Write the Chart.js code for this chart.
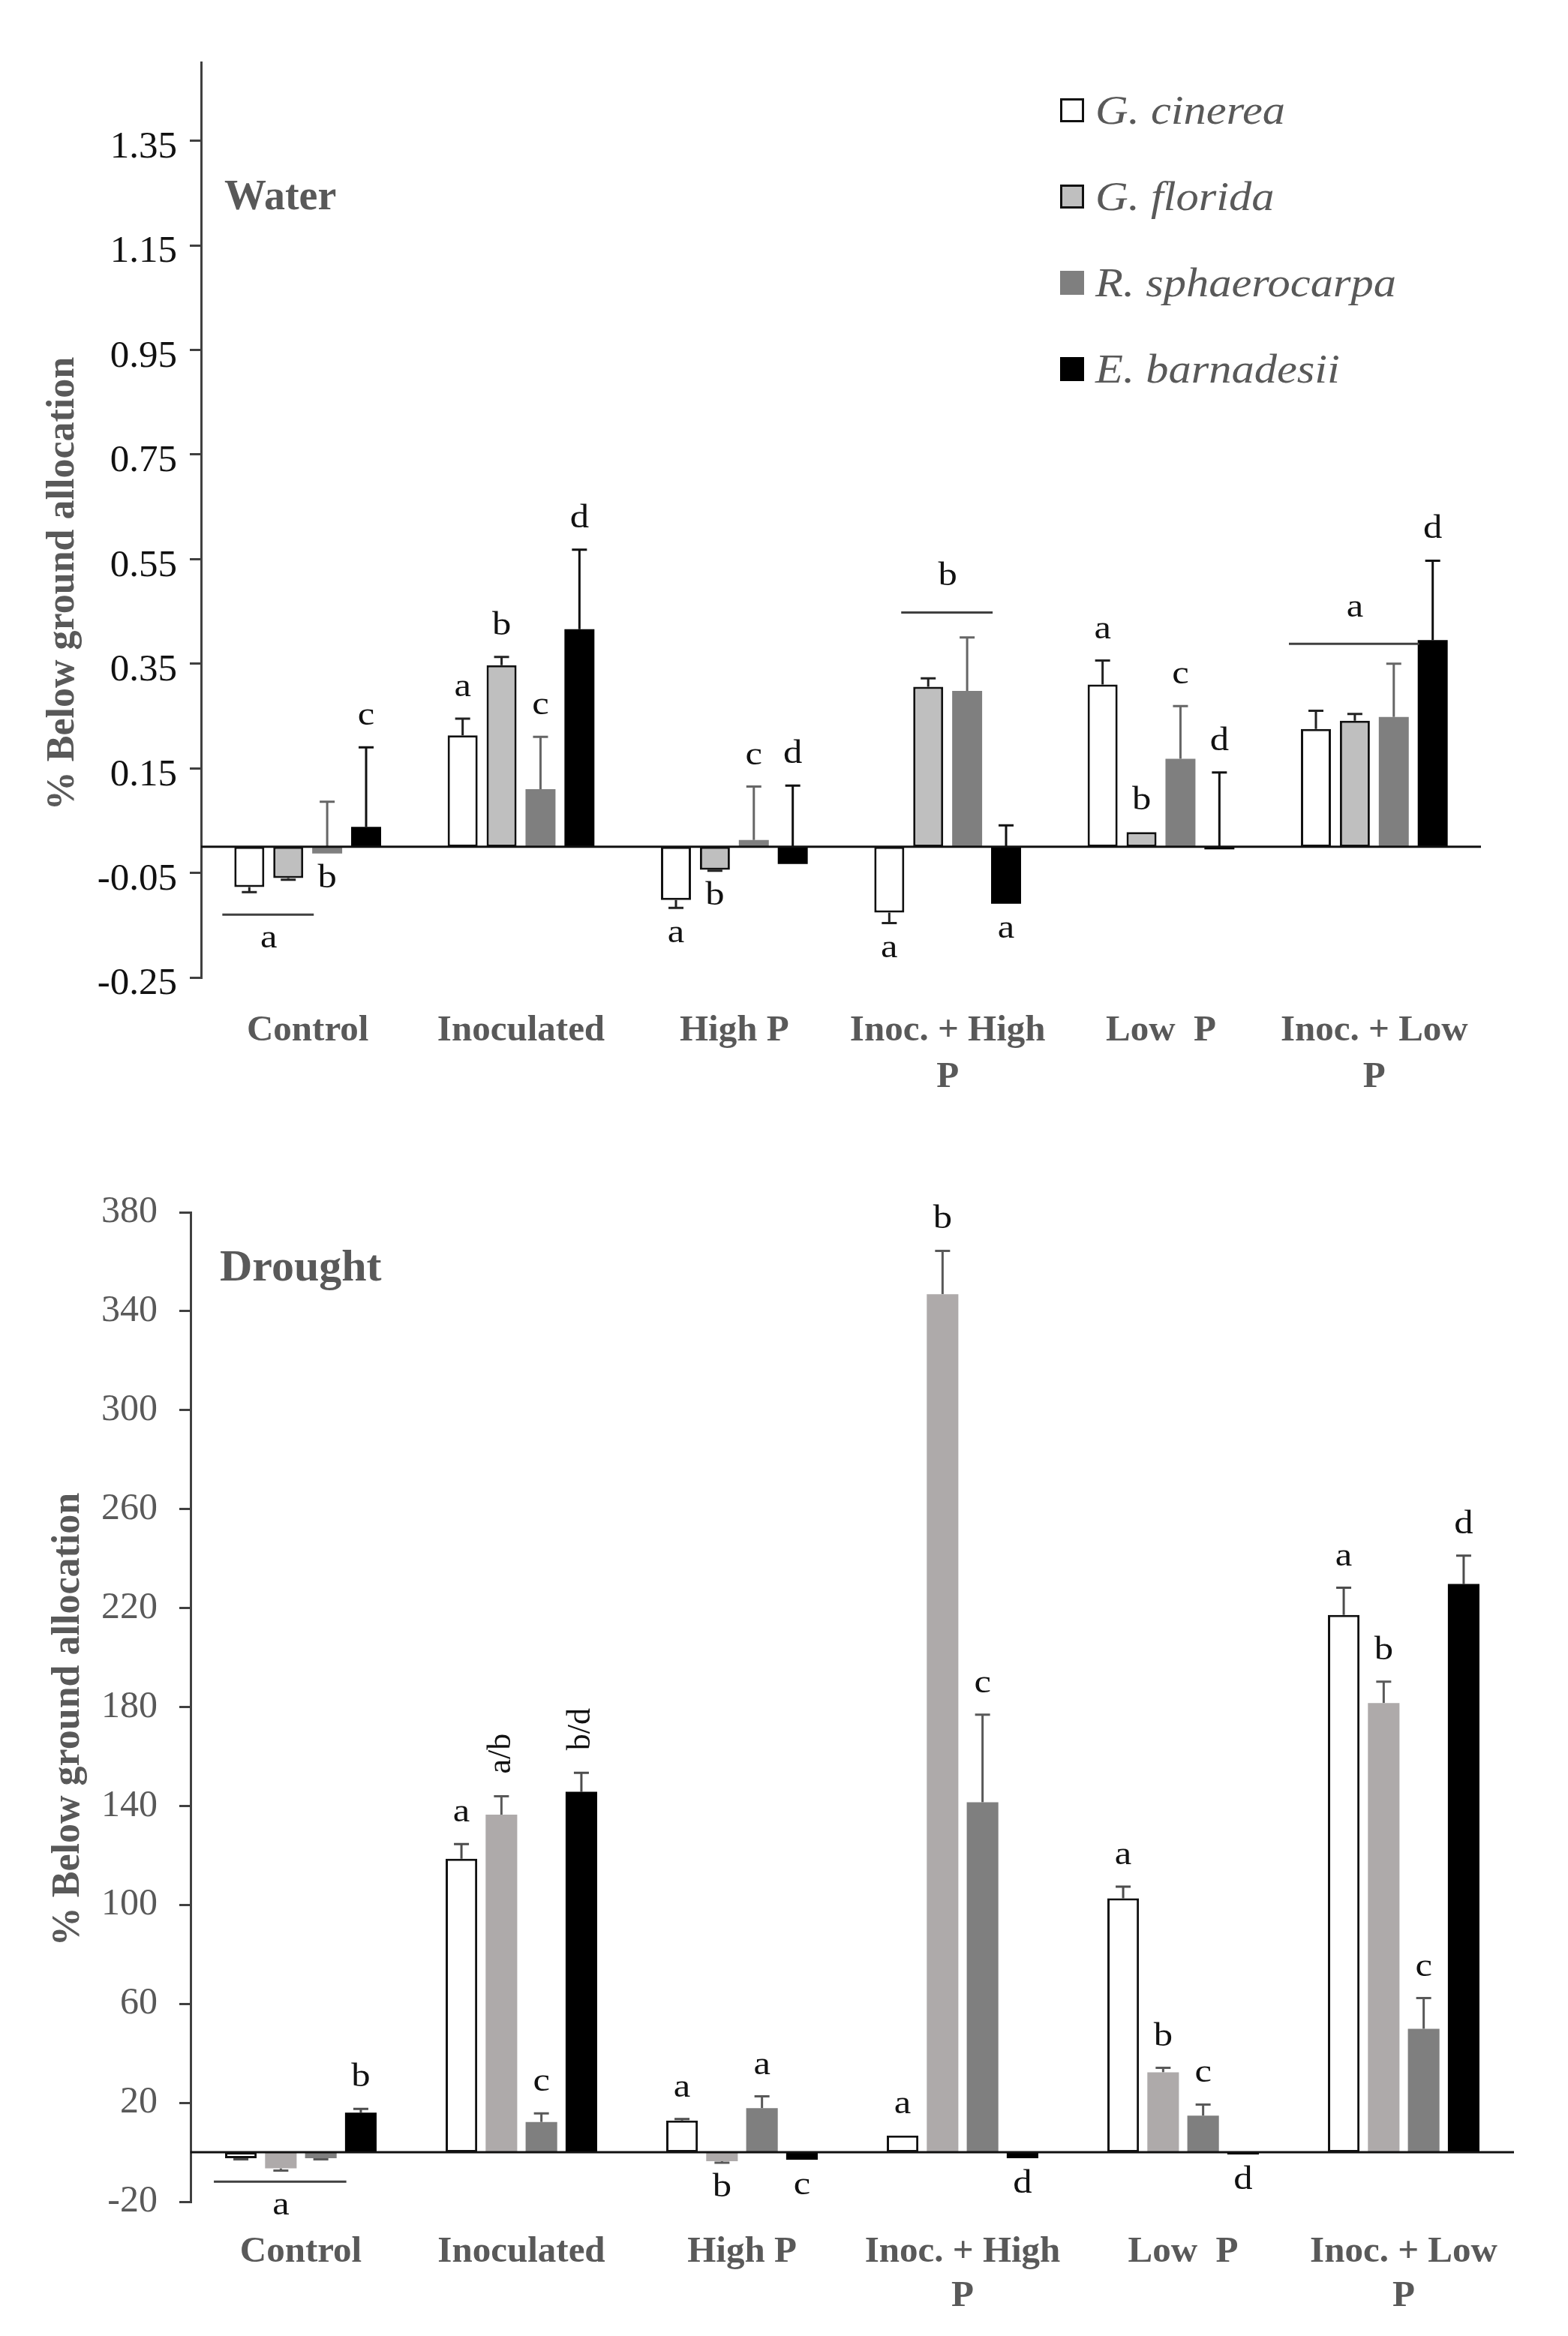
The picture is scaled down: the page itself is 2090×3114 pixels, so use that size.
<!DOCTYPE html>
<html>
<head>
<meta charset="utf-8">
<script src="https://cdn.jsdelivr.net/npm/chart.js@4.4.0/dist/chart.umd.min.js"></script>
<style>
  body { margin: 0; background: #fff; }
  .wrap { position: absolute; left: 0; }
</style>
</head>
<body>
<div class="wrap" style="top:0"><canvas id="waterChart" width="2090" height="1500"></canvas></div>
<div class="wrap" style="top:1540px"><canvas id="droughtChart" width="2090" height="1574"></canvas></div>
<script>
const treatments = ['Control', 'Inoculated', 'High P', ['Inoc. + High', 'P'], 'Low  P', ['Inoc. + Low', 'P']];
const species = ['G. cinerea', 'G. florida', 'R. sphaerocarpa', 'E. barnadesii'];

// Water - bar means
const waterCinerea = [-0.077, 0.213, -0.102, -0.126, 0.310, 0.225];
const waterFlorida = [-0.060, 0.347, -0.044, 0.306, 0.028, 0.241];
const waterSphaero = [-0.013, 0.110, 0.013, 0.298, 0.168, 0.248];
const waterBarnad  = [0.038, 0.416, -0.033, -0.109, -0.005, 0.395];
// Water - whisker ends
const waterCinereaErr = [-0.087, 0.245, -0.117, -0.146, 0.356, 0.260];
const waterFloridaErr = [-0.063, 0.363, -0.046, 0.322, null, 0.254];
const waterSphaeroErr = [0.086, 0.210, 0.115, 0.400, 0.269, 0.350];
const waterBarnadErr  = [0.190, 0.568, 0.117, 0.041, 0.142, 0.547];
// Water - letters
const waterLetters = [
  ['', 'a', 'a', 'a', 'a', ''],
  ['', 'b', 'b', '', 'b', ''],
  ['b', 'c', 'c', '', 'c', ''],
  ['c', 'd', 'd', 'a', 'd', 'd']
];
const waterLetterPos = [
  ['', 'up', 'down', 'down', 'up', ''],
  ['', 'up', 'down', '', 'up', ''],
  ['down', 'up', 'up', '', 'up', ''],
  ['up', 'up', 'up', 'down', 'up', 'up']
];
const waterGroups = [
  { cat: 0, from: 0, to: 1, value: -0.130, text: 'a', pos: 'down' },
  { cat: 3, from: 1, to: 2, value: 0.448, text: 'b', pos: 'up' },
  { cat: 5, from: 0, to: 2, value: 0.388, text: 'a', pos: 'up' }
];
const waterTicks = [-0.25, -0.05, 0.15, 0.35, 0.55, 0.75, 0.95, 1.15, 1.35];

// Drought - bar means
const droughtCinerea = [-2.4, 118.7, 12.8, 6.8, 102.7, 217.2];
const droughtFlorida = [-6.5, 136.5, -3.6, 346.9, 32.3, 181.6];
const droughtSphaero = [-2.4, 12.2, 17.8, 141.5, 14.8, 49.9];
const droughtBarnad  = [16.0, 145.7, -3.0, -2.4, -0.9, 229.7];
// Drought - whisker ends
const droughtCinereaErr = [-2.9, 124.6, 13.4, null, 107.4, 228.2];
const droughtFloridaErr = [-7.4, 143.9, -4.2, 364.4, 34.1, 190.2];
const droughtSphaeroErr = [-2.9, 15.7, 22.6, 176.9, 19.3, 62.3];
const droughtBarnadErr  = [17.5, 153.4, null, null, null, 241.2];
// Drought - letters
const droughtLetters = [
  ['', 'a', 'a', 'a', 'a', 'a'],
  ['', 'a/b', 'b', 'b', 'b', 'b'],
  ['', 'c', 'a', 'c', 'c', 'c'],
  ['b', 'b/d', 'c', 'd', 'd', 'd']
];
const droughtLetterPos = [
  ['', 'up', 'up', 'up', 'up', 'up'],
  ['', 'up', 'down', 'up', 'up', 'up'],
  ['', 'up', 'up', 'up', 'up', 'up'],
  ['up', 'up', 'down', 'down', 'down', 'up']
];
const droughtGroups = [
  { cat: 0, from: 0, to: 2, value: -11.9, text: 'a', pos: 'down' }
];
const droughtTicks = [-20, 20, 60, 100, 140, 180, 220, 260, 300, 340, 380];

const SERIF = "'Liberation Serif', 'Times New Roman', serif";
const GREY = '#595959';

// wider text, the original uses a broad book face
function wideText(ctx, txt, x, y, sx) {
  ctx.save();
  ctx.translate(x, y);
  ctx.scale(sx, 1);
  ctx.fillText(txt, 0, 0);
  ctx.restore();
}

const extrasPlugin = {
  id: 'extras',
  beforeDatasetsDraw(chart, args, opts) {
    const ctx = chart.ctx, y = chart.scales.y;
    ctx.save();
    ctx.lineWidth = 3;
    chart.data.datasets.forEach((ds, i) => {
      const meta = chart.getDatasetMeta(i);
      ctx.strokeStyle = opts.errColors[i];
      meta.data.forEach((bar, j) => {
        const end = opts.errs[i][j];
        if (end === null || end === undefined) return;
        let v = ds.data[j];
        if (v < 0 && end > v) v = 0;
        const y0 = y.getPixelForValue(v), y1 = y.getPixelForValue(end);
        ctx.beginPath();
        ctx.moveTo(bar.x, y0); ctx.lineTo(bar.x, y1);
        ctx.moveTo(bar.x - 10, y1); ctx.lineTo(bar.x + 10, y1);
        ctx.stroke();
      });
    });
    ctx.restore();
  },
  afterDatasetsDraw(chart, args, opts) {
    const ctx = chart.ctx, y = chart.scales.y, area = chart.chartArea;
    ctx.save();

    // zero line
    const y0 = y.getPixelForValue(0);
    ctx.strokeStyle = '#111';
    ctx.lineWidth = 3;
    ctx.beginPath();
    ctx.moveTo(area.left, y0); ctx.lineTo(area.right, y0);
    ctx.stroke();

    // significance letters
    ctx.fillStyle = '#111';
    ctx.font = '44px ' + SERIF;
    ctx.textAlign = 'center';
    chart.data.datasets.forEach((ds, i) => {
      const meta = chart.getDatasetMeta(i);
      meta.data.forEach((bar, j) => {
        const txt = opts.letters[i][j];
        if (!txt) return;
        const v = ds.data[j];
        const e = opts.errs[i][j] === null ? v : opts.errs[i][j];
        if (opts.letterPos[i][j] === 'up') {
          const py = y.getPixelForValue(Math.max(v, e));
          if (txt.indexOf('/') >= 0) {
            ctx.save();
            ctx.translate(bar.x, py - 30);
            ctx.rotate(-Math.PI / 2);
            ctx.textAlign = 'left';
            ctx.textBaseline = 'middle';
            ctx.fillText(txt, 0, 0);
            ctx.restore();
          } else {
            ctx.textBaseline = 'alphabetic';
            wideText(ctx, txt, bar.x, py - 30, 1.15);
          }
        } else {
          const py = y.getPixelForValue(Math.min(v, e));
          ctx.textBaseline = 'top';
          wideText(ctx, txt, bar.x, py + 12, 1.15);
        }
      });
    });

    // group lines
    opts.groups.forEach(g => {
      const a = chart.getDatasetMeta(g.from).data[g.cat];
      const b = chart.getDatasetMeta(g.to).data[g.cat];
      const gy = y.getPixelForValue(g.value);
      ctx.strokeStyle = '#404040';
      ctx.lineWidth = 3;
      ctx.beginPath();
      ctx.moveTo(a.x - 36, gy); ctx.lineTo(b.x + 34, gy);
      ctx.stroke();
      const mx = (a.x + b.x) / 2;
      if (g.pos === 'down') {
        ctx.textBaseline = 'top';
        wideText(ctx, g.text, mx, gy + 10, 1.15);
      } else {
        ctx.textBaseline = 'alphabetic';
        wideText(ctx, g.text, mx, gy - 36, 1.15);
      }
    });

    // panel title
    ctx.fillStyle = GREY;
    ctx.font = 'bold ' + opts.title.size + 'px ' + SERIF;
    ctx.textAlign = 'left';
    ctx.textBaseline = 'alphabetic';
    ctx.fillText(opts.title.text, opts.title.x, opts.title.y);

    // y axis title
    ctx.save();
    ctx.translate(opts.yTitle.x, opts.yTitle.y);
    ctx.rotate(-Math.PI / 2);
    ctx.font = 'bold 52px ' + SERIF;
    ctx.textAlign = 'center';
    ctx.textBaseline = 'middle';
    ctx.fillText('% Below ground allocation', 0, 0);
    ctx.restore();

    // legend
    if (opts.legend) {
      const L = opts.legend;
      chart.data.datasets.forEach((ds, i) => {
        const by = L.y + i * L.dy;
        ctx.fillStyle = ds.backgroundColor;
        ctx.fillRect(L.x, by, L.box, L.box);
        if (ds.borderWidth) {
          ctx.strokeStyle = ds.borderColor;
          ctx.lineWidth = 3;
          ctx.strokeRect(L.x + 1.5, by + 1.5, L.box - 3, L.box - 3);
        }
        ctx.fillStyle = GREY;
        ctx.font = 'italic 54px ' + SERIF;
        ctx.textBaseline = 'alphabetic';
        wideText(ctx, ds.label, L.textX, by + L.box + 2, 1.12);
      });
    }
    ctx.restore();
  }
};

function makeChart(id, cfg) {
  return new Chart(document.getElementById(id), {
    type: 'bar',
    data: {
      labels: treatments,
      datasets: cfg.series.map((d, i) => ({
        label: species[i],
        data: d,
        backgroundColor: cfg.fills[i],
        borderColor: '#111',
        borderWidth: cfg.borders[i],
        borderSkipped: false,
        categoryPercentage: cfg.catPct,
        barPercentage: cfg.barPct
      }))
    },
    options: {
      responsive: false,
      animation: false,
      devicePixelRatio: 1,
      layout: { padding: { top: cfg.top, right: cfg.right, bottom: 0, left: 0 } },
      plugins: {
        legend: { display: false },
        tooltip: { enabled: false },
        extras: cfg.extras
      },
      scales: {
        x: {
          grid: { display: false },
          border: { display: false },
          ticks: {
            color: GREY,
            padding: cfg.xPad,
            maxRotation: 0,
            autoSkip: false,
            font: { family: SERIF, size: 49, weight: 'bold', lineHeight: cfg.xLine }
          },
          afterFit: s => { s.height = cfg.xHeight; }
        },
        y: {
          min: cfg.ticks[0],
          max: cfg.yMax,
          afterBuildTicks: s => { s.ticks = cfg.ticks.map(v => ({ value: v })); },
          afterFit: s => { s.width = cfg.yWidth; },
          grid: { drawOnChartArea: false, drawTicks: true, tickLength: 15, color: '#404040', lineWidth: 3 },
          border: { display: true, color: '#404040', width: 3 },
          ticks: {
            color: cfg.tickColor,
            padding: cfg.yPad,
            labelOffset: cfg.yLabelOffset,
            font: { family: SERIF, size: cfg.tickSize },
            callback: v => cfg.fmt(v)
          }
        }
      }
    },
    plugins: [extrasPlugin]
  });
}

makeChart('waterChart', {
  series: [waterCinerea, waterFlorida, waterSphaero, waterBarnad],
  fills: ['#ffffff', '#bfbfbf', '#7f7f7f', '#000000'],
  borders: [3, 3, 0, 0],
  catPct: 0.73, barPct: 0.77,
  top: 83, right: 116,
  xPad: 33, xLine: 1.25, xHeight: 197,
  ticks: waterTicks, yMax: 1.5, yWidth: 268, yPad: 17, yLabelOffset: 9,
  tickColor: '#111', tickSize: 51,
  fmt: v => v.toFixed(2),
  extras: {
    errs: [waterCinereaErr, waterFloridaErr, waterSphaeroErr, waterBarnadErr],
    errColors: ['#222', '#222', '#666', '#111'],
    letters: waterLetters,
    letterPos: waterLetterPos,
    groups: waterGroups,
    title: { text: 'Water', x: 299, y: 279, size: 56 },
    yTitle: { x: 85, y: 778 },
    legend: { x: 1413, y: 131, dy: 115, box: 32, textX: 1460 }
  }
});

makeChart('droughtChart', {
  series: [droughtCinerea, droughtFlorida, droughtSphaero, droughtBarnad],
  fills: ['#ffffff', '#aeaaaa', '#7f7f7f', '#000000'],
  borders: [3, 0, 0, 0],
  catPct: 0.725, barPct: 0.79,
  top: 76, right: 72,
  xPad: 30, xLine: 1.2, xHeight: 179,
  ticks: droughtTicks, yMax: 380, yWidth: 254, yPad: 29, yLabelOffset: 0,
  tickColor: GREY, tickSize: 50,
  fmt: v => String(v),
  extras: {
    errs: [droughtCinereaErr, droughtFloridaErr, droughtSphaeroErr, droughtBarnadErr],
    errColors: ['#4d4d4d', '#595959', '#595959', '#4d4d4d'],
    letters: droughtLetters,
    letterPos: droughtLetterPos,
    groups: droughtGroups,
    title: { text: 'Drought', x: 293, y: 167, size: 60 },
    yTitle: { x: 92, y: 752 },
    legend: null
  }
});
</script>
</body>
</html>
